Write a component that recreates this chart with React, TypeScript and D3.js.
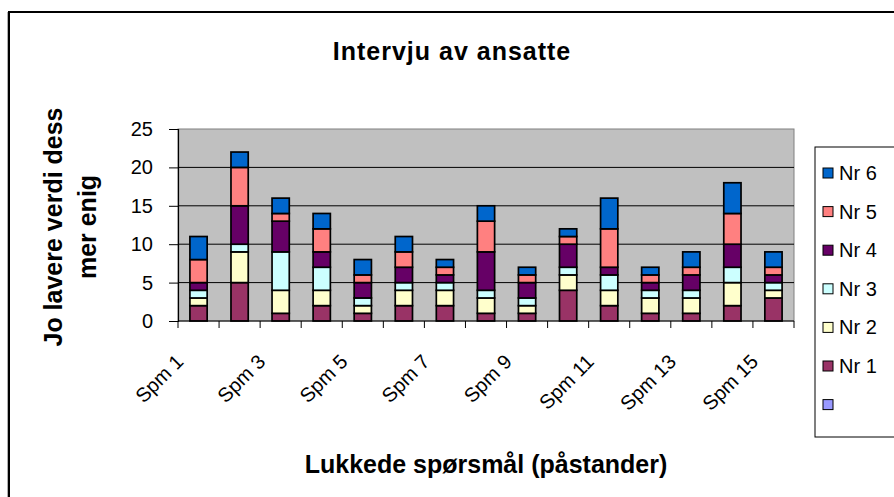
import * as d3 from 'd3';
import React, { useRef, useEffect } from 'react';

const categories = ['Spm 1', 'Spm 2', 'Spm 3', 'Spm 4', 'Spm 5', 'Spm 6', 'Spm 7', 'Spm 8',
  'Spm 9', 'Spm 10', 'Spm 11', 'Spm 12', 'Spm 13', 'Spm 14', 'Spm 15'];
const seriesNames = ['Nr 1', 'Nr 2', 'Nr 3', 'Nr 4', 'Nr 5', 'Nr 6'];
const nr1 = [2, 5, 1, 2, 1, 2, 2, 1, 1, 4, 2, 1, 1, 2, 3];
const nr2 = [1, 4, 3, 2, 1, 2, 2, 2, 1, 2, 2, 2, 2, 3, 1];
const nr3 = [1, 1, 5, 3, 1, 1, 1, 1, 1, 1, 2, 1, 1, 2, 1];
const nr4 = [1, 5, 4, 2, 2, 2, 1, 5, 2, 3, 1, 1, 2, 3, 1];
const nr5 = [3, 5, 1, 3, 1, 2, 1, 4, 1, 1, 5, 1, 1, 4, 1];
const nr6 = [3, 2, 2, 2, 2, 2, 1, 2, 1, 1, 4, 1, 2, 4, 2];
const yTicks = [0, 5, 10, 15, 20, 25];
const colors = ['#993366', '#FFFFCC', '#CCFFFF', '#660066', '#FF8080', '#0066CC'];

const font = '"Liberation Sans", Arial, sans-serif';

export default function App() {
  const svgRef = useRef<SVGSVGElement>(null);

  useEffect(() => {
    const width = 894;
    const height = 497;
    const left = 178;
    const right = 794;
    const top = 129;
    const bottom = 321;
    const svg = d3.select(svgRef.current);
    svg.selectAll('*').remove();

    // chart frame (with a faint shadow on the left)
    svg.append('line').attr('x1', 7.5).attr('x2', 7.5).attr('y1', 12).attr('y2', height)
      .attr('stroke', '#b0b0b0');
    svg.append('rect').attr('x', 9).attr('y', 12).attr('width', width).attr('height', height)
      .attr('fill', 'white').attr('stroke', 'black').attr('stroke-width', 2);

    const x = d3.scaleBand().domain(categories).range([left, right])
      .paddingInner(0.58).paddingOuter(0.29);
    const y = d3.scaleLinear().domain([0, 25]).range([bottom, top]);

    // plot area
    svg.append('rect').attr('x', left).attr('y', top).attr('width', right - left)
      .attr('height', bottom - top).attr('fill', '#C0C0C0').attr('stroke', '#808080');

    svg.append('g').selectAll('line').data(yTicks.filter((t) => t > 0 && t < 25)).join('line')
      .attr('x1', left).attr('x2', right).attr('y1', (d) => y(d)).attr('y2', (d) => y(d))
      .attr('stroke', 'black').attr('stroke-width', 1);

    const rows = categories.map((c, i) => ({
      cat: c, nr1: nr1[i], nr2: nr2[i], nr3: nr3[i], nr4: nr4[i], nr5: nr5[i], nr6: nr6[i],
    }));
    const stack = d3.stack<any>().keys(['nr1', 'nr2', 'nr3', 'nr4', 'nr5', 'nr6'])(rows);

    svg.append('g').selectAll('g').data(stack).join('g')
      .attr('fill', (d, i) => colors[i])
      .selectAll('rect').data((d) => d).join('rect')
      .attr('x', (d) => x(d.data.cat)!)
      .attr('width', x.bandwidth())
      .attr('y', (d) => y(d[1]))
      .attr('height', (d) => y(d[0]) - y(d[1]))
      .attr('stroke', 'black').attr('stroke-width', 1.7);

    // y axis
    const yAxis = d3.axisLeft(y).tickValues(yTicks).tickSize(9).tickPadding(16);
    const gy = svg.append('g').attr('transform', `translate(${left},0)`).call(yAxis);
    gy.select('.domain').attr('stroke', 'black').attr('stroke-width', 1.2);
    gy.selectAll('.tick line').attr('stroke', 'black');
    gy.selectAll('text').attr('font-family', font).attr('font-size', 20).attr('fill', 'black');

    // x axis
    const step = x.step();
    svg.append('line').attr('x1', left).attr('x2', right).attr('y1', bottom).attr('y2', bottom)
      .attr('stroke', 'black').attr('stroke-width', 1.2);
    svg.append('g').selectAll('line').data(d3.range(categories.length + 1)).join('line')
      .attr('x1', (i) => left + i * step).attr('x2', (i) => left + i * step)
      .attr('y1', bottom).attr('y2', bottom + 7).attr('stroke', 'black');

    svg.append('g').selectAll('text').data(categories.filter((c, i) => i % 2 === 0)).join('text')
      .attr('transform', (d) => `translate(${x(d)! + x.bandwidth() / 2 - 14},${bottom + 42}) rotate(-45)`)
      .attr('text-anchor', 'end')
      .attr('font-family', font).attr('font-size', 20).text((d) => d);

    // titles
    svg.append('text').attr('x', 452).attr('y', 60).attr('text-anchor', 'middle')
      .attr('font-family', font).attr('font-size', 25).attr('font-weight', 'bold')
      .attr('letter-spacing', 1)
      .text('Intervju av ansatte');
    svg.append('text').attr('x', (left + right) / 2).attr('y', 473).attr('text-anchor', 'middle')
      .attr('font-family', font).attr('font-size', 25).attr('font-weight', 'bold')
      .text('Lukkede spørsmål (påstander)');
    const yt = svg.append('text').attr('transform', `translate(62,227) rotate(-90)`)
      .attr('text-anchor', 'middle').attr('font-family', font).attr('font-size', 25)
      .attr('font-weight', 'bold');
    yt.append('tspan').attr('x', 0).attr('y', 0).text('Jo lavere verdi dess');
    yt.append('tspan').attr('x', 0).attr('y', 34).text('mer enig');

    // legend
    svg.append('rect').attr('x', 815).attr('y', 147).attr('width', 120).attr('height', 290)
      .attr('fill', 'white').attr('stroke', 'black');
    const legendItems = [...seriesNames.map((n, i) => ({ name: n, color: colors[i] })).reverse(),
      { name: '', color: '#9999FF' }];
    const lg = svg.append('g').selectAll('g').data(legendItems).join('g')
      .attr('transform', (d, i) => `translate(823,${173 + i * 38.6})`);
    lg.append('rect').attr('x', 0).attr('y', -5).attr('width', 10).attr('height', 10)
      .attr('fill', (d) => d.color).attr('stroke', 'black');
    lg.append('text').attr('x', 16).attr('dy', '0.35em').attr('font-family', font)
      .attr('font-size', 20).text((d) => d.name);
  }, []);

  return (
    <svg ref={svgRef} width={894} height={497} style={{ position: 'absolute', left: 0, top: 0 }} />
  );
}
